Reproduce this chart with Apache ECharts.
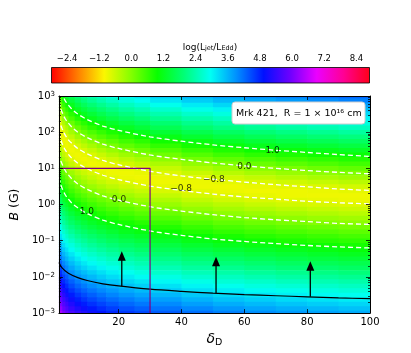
<!DOCTYPE html>
<html lang="en">
<head>
    <meta charset="UTF-8">
    <title>Mrk 421 jet power</title>
    <script src="https://cdn.jsdelivr.net/npm/echarts@6.0.0/dist/echarts.min.js"></script>
</head>
<body style="margin: 0; background: #fff;">
<div id="container" style="width: 411px; height: 353px;"></div>
<script type="text/javascript">

    // colour map cells: delta_D bin edges (columns) and log10 B row centres (top to bottom)
    let deltaEdges = [1, 2, 3, 4, 6, 8, 10, 13, 16, 20, 25, 30, 40, 50, 60, 70, 80, 90, 100];
    let logBCenters = [3, 2.875, 2.75, 2.625, 2.5, 2.375, 2.25, 2.125, 2, 1.875, 1.75, 1.625, 1.5, 1.375,
        1.25, 1.125, 1, 0.875, 0.75, 0.625, 0.5, 0.375, 0.25, 0.125, 0, -0.125, -0.25, -0.375, -0.5,
        -0.625, -0.75, -0.875, -1, -1.125, -1.25, -1.375, -1.5, -1.625, -1.75, -1.875, -2, -2.125,
        -2.25, -2.375, -2.5, -2.625, -2.75, -2.875, -3];

    // log(Ljet/LEdd) per cell, one row per logBCenters entry
    let jetPower = [
        [0.65, 1.10, 1.39, 1.70, 1.99, 2.21, 2.42, 2.62, 2.81, 3.01, 3.18, 3.39, 3.61, 3.78, 3.93, 4.05, 4.16, 4.26],
        [0.40, 0.85, 1.14, 1.45, 1.74, 1.96, 2.17, 2.37, 2.56, 2.76, 2.93, 3.14, 3.36, 3.53, 3.68, 3.80, 3.91, 4.01],
        [0.16, 0.60, 0.89, 1.20, 1.49, 1.71, 1.92, 2.12, 2.31, 2.51, 2.68, 2.89, 3.11, 3.28, 3.43, 3.55, 3.66, 3.76],
        [-0.09, 0.35, 0.64, 0.95, 1.24, 1.46, 1.67, 1.87, 2.06, 2.26, 2.43, 2.64, 2.86, 3.03, 3.18, 3.30, 3.41, 3.51],
        [-0.33, 0.10, 0.39, 0.70, 0.99, 1.21, 1.42, 1.62, 1.81, 2.01, 2.18, 2.39, 2.61, 2.78, 2.93, 3.05, 3.16, 3.26],
        [-0.56, -0.15, 0.14, 0.45, 0.74, 0.96, 1.17, 1.37, 1.56, 1.76, 1.93, 2.14, 2.36, 2.53, 2.68, 2.80, 2.91, 3.01],
        [-0.76, -0.39, -0.11, 0.20, 0.49, 0.71, 0.92, 1.12, 1.31, 1.51, 1.68, 1.89, 2.11, 2.28, 2.43, 2.55, 2.66, 2.76],
        [-0.89, -0.61, -0.35, -0.05, 0.24, 0.46, 0.67, 0.87, 1.06, 1.26, 1.43, 1.64, 1.86, 2.03, 2.18, 2.30, 2.41, 2.51],
        [-0.92, -0.80, -0.57, -0.29, 0.00, 0.21, 0.42, 0.62, 0.81, 1.01, 1.18, 1.39, 1.61, 1.78, 1.93, 2.05, 2.16, 2.26],
        [-0.86, -0.90, -0.77, -0.52, -0.25, -0.04, 0.18, 0.37, 0.56, 0.76, 0.93, 1.14, 1.36, 1.53, 1.68, 1.80, 1.91, 2.01],
        [-0.73, -0.91, -0.90, -0.72, -0.48, -0.28, -0.07, 0.13, 0.31, 0.51, 0.68, 0.89, 1.11, 1.28, 1.43, 1.55, 1.66, 1.76],
        [-0.56, -0.83, -0.92, -0.87, -0.69, -0.51, -0.31, -0.12, 0.06, 0.26, 0.43, 0.64, 0.86, 1.03, 1.18, 1.30, 1.41, 1.51],
        [-0.38, -0.69, -0.85, -0.93, -0.85, -0.72, -0.54, -0.36, -0.18, 0.01, 0.18, 0.39, 0.61, 0.78, 0.93, 1.05, 1.16, 1.26],
        [-0.20, -0.52, -0.72, -0.88, -0.92, -0.87, -0.74, -0.59, -0.42, -0.24, -0.07, 0.14, 0.36, 0.53, 0.68, 0.80, 0.91, 1.01],
        [-0.01, -0.34, -0.55, -0.75, -0.89, -0.93, -0.88, -0.78, -0.64, -0.48, -0.31, -0.11, 0.11, 0.28, 0.43, 0.55, 0.66, 0.76],
        [0.18, -0.16, -0.37, -0.59, -0.78, -0.88, -0.93, -0.90, -0.82, -0.68, -0.54, -0.35, -0.14, 0.04, 0.18, 0.30, 0.41, 0.51],
        [0.36, 0.03, -0.19, -0.42, -0.62, -0.76, -0.86, -0.92, -0.91, -0.84, -0.74, -0.57, -0.38, -0.21, -0.07, 0.05, 0.16, 0.26],
        [0.55, 0.22, 0.00, -0.23, -0.45, -0.60, -0.74, -0.84, -0.91, -0.92, -0.88, -0.77, -0.60, -0.45, -0.31, -0.19, -0.09, 0.01],
        [0.74, 0.41, 0.19, -0.05, -0.26, -0.42, -0.57, -0.71, -0.82, -0.90, -0.93, -0.90, -0.79, -0.66, -0.54, -0.43, -0.33, -0.23],
        [0.93, 0.59, 0.37, 0.14, -0.08, -0.24, -0.40, -0.54, -0.67, -0.79, -0.87, -0.92, -0.90, -0.83, -0.74, -0.65, -0.56, -0.47],
        [1.11, 0.78, 0.56, 0.33, 0.11, -0.05, -0.21, -0.36, -0.50, -0.63, -0.74, -0.85, -0.91, -0.92, -0.88, -0.82, -0.75, -0.68],
        [1.30, 0.97, 0.75, 0.52, 0.30, 0.13, -0.03, -0.18, -0.31, -0.46, -0.58, -0.72, -0.84, -0.90, -0.93, -0.91, -0.89, -0.84],
        [1.49, 1.16, 0.94, 0.70, 0.48, 0.32, 0.16, 0.01, -0.13, -0.27, -0.40, -0.55, -0.70, -0.80, -0.87, -0.91, -0.92, -0.92],
        [1.68, 1.34, 1.12, 0.89, 0.67, 0.51, 0.35, 0.20, 0.06, -0.09, -0.22, -0.37, -0.53, -0.65, -0.74, -0.81, -0.86, -0.90],
        [1.86, 1.53, 1.31, 1.08, 0.86, 0.70, 0.54, 0.39, 0.24, 0.10, -0.03, -0.19, -0.35, -0.47, -0.58, -0.66, -0.73, -0.79],
        [2.05, 1.72, 1.50, 1.27, 1.05, 0.88, 0.72, 0.57, 0.43, 0.29, 0.16, 0.00, -0.16, -0.29, -0.40, -0.49, -0.57, -0.63],
        [2.24, 1.90, 1.69, 1.45, 1.23, 1.07, 0.91, 0.76, 0.62, 0.47, 0.34, 0.19, 0.02, -0.11, -0.22, -0.31, -0.39, -0.46],
        [2.43, 2.09, 1.87, 1.64, 1.42, 1.26, 1.10, 0.95, 0.81, 0.66, 0.53, 0.37, 0.21, 0.08, -0.03, -0.12, -0.20, -0.27],
        [2.61, 2.28, 2.06, 1.83, 1.61, 1.45, 1.29, 1.14, 0.99, 0.85, 0.72, 0.56, 0.40, 0.27, 0.16, 0.06, -0.02, -0.09],
        [2.80, 2.47, 2.25, 2.02, 1.80, 1.63, 1.47, 1.32, 1.18, 1.04, 0.91, 0.75, 0.59, 0.45, 0.35, 0.25, 0.17, 0.10],
        [2.99, 2.66, 2.44, 2.20, 1.98, 1.82, 1.66, 1.51, 1.37, 1.22, 1.09, 0.94, 0.77, 0.64, 0.53, 0.44, 0.36, 0.29],
        [3.18, 2.84, 2.62, 2.39, 2.17, 2.01, 1.85, 1.70, 1.56, 1.41, 1.28, 1.12, 0.96, 0.83, 0.72, 0.63, 0.55, 0.47],
        [3.36, 3.03, 2.81, 2.58, 2.36, 2.20, 2.04, 1.89, 1.74, 1.60, 1.47, 1.31, 1.15, 1.02, 0.91, 0.81, 0.73, 0.66],
        [3.55, 3.22, 3.00, 2.77, 2.55, 2.38, 2.22, 2.07, 1.93, 1.79, 1.66, 1.50, 1.34, 1.20, 1.10, 1.00, 0.92, 0.85],
        [3.74, 3.41, 3.19, 2.95, 2.73, 2.57, 2.41, 2.26, 2.12, 1.97, 1.84, 1.69, 1.52, 1.39, 1.28, 1.19, 1.11, 1.04],
        [3.93, 3.59, 3.37, 3.14, 2.92, 2.76, 2.60, 2.45, 2.31, 2.16, 2.03, 1.87, 1.71, 1.58, 1.47, 1.38, 1.30, 1.22],
        [4.11, 3.78, 3.56, 3.33, 3.11, 2.95, 2.79, 2.64, 2.49, 2.35, 2.22, 2.06, 1.90, 1.77, 1.66, 1.56, 1.48, 1.41],
        [4.30, 3.97, 3.75, 3.52, 3.30, 3.13, 2.97, 2.82, 2.68, 2.54, 2.41, 2.25, 2.09, 1.95, 1.85, 1.75, 1.67, 1.60],
        [4.49, 4.16, 3.94, 3.70, 3.48, 3.32, 3.16, 3.01, 2.87, 2.72, 2.59, 2.44, 2.27, 2.14, 2.03, 1.94, 1.86, 1.79],
        [4.68, 4.34, 4.12, 3.89, 3.67, 3.51, 3.35, 3.20, 3.06, 2.91, 2.78, 2.62, 2.46, 2.33, 2.22, 2.13, 2.05, 1.97],
        [4.86, 4.53, 4.31, 4.08, 3.86, 3.70, 3.54, 3.39, 3.24, 3.10, 2.97, 2.81, 2.65, 2.52, 2.41, 2.31, 2.23, 2.16],
        [5.05, 4.72, 4.50, 4.27, 4.05, 3.88, 3.72, 3.57, 3.43, 3.29, 3.16, 3.00, 2.84, 2.70, 2.60, 2.50, 2.42, 2.35],
        [5.24, 4.91, 4.69, 4.45, 4.23, 4.07, 3.91, 3.76, 3.62, 3.47, 3.34, 3.19, 3.02, 2.89, 2.78, 2.69, 2.61, 2.54],
        [5.43, 5.09, 4.87, 4.64, 4.42, 4.26, 4.10, 3.95, 3.81, 3.66, 3.53, 3.37, 3.21, 3.08, 2.97, 2.88, 2.80, 2.72],
        [5.61, 5.28, 5.06, 4.83, 4.61, 4.45, 4.29, 4.14, 3.99, 3.85, 3.72, 3.56, 3.40, 3.27, 3.16, 3.06, 2.98, 2.91],
        [5.80, 5.47, 5.25, 5.02, 4.80, 4.63, 4.47, 4.32, 4.18, 4.04, 3.91, 3.75, 3.59, 3.45, 3.35, 3.25, 3.17, 3.10],
        [5.99, 5.66, 5.44, 5.20, 4.98, 4.82, 4.66, 4.51, 4.37, 4.22, 4.09, 3.94, 3.77, 3.64, 3.53, 3.44, 3.36, 3.29],
        [6.18, 5.84, 5.62, 5.39, 5.17, 5.01, 4.85, 4.70, 4.56, 4.41, 4.28, 4.12, 3.96, 3.83, 3.72, 3.63, 3.55, 3.47],
        [6.36, 6.03, 5.81, 5.58, 5.36, 5.20, 5.04, 4.89, 4.74, 4.60, 4.47, 4.31, 4.15, 4.02, 3.91, 3.81, 3.73, 3.66]
    ];

    // dashed contours: log10 B at each delta_D
    let contourDelta = [1, 1.5, 2, 3, 4, 5, 7, 10, 15, 20, 30, 40, 50, 60, 70, 80, 90, 100];
    let upperOne = [3.35, 3.17, 3.05, 2.87, 2.75, 2.65, 2.50, 2.35, 2.17, 2.05, 1.87, 1.75, 1.65, 1.57, 1.50, 1.44, 1.38, 1.33];
    let upperZero = [2.85, 2.67, 2.55, 2.37, 2.25, 2.15, 2.00, 1.85, 1.67, 1.55, 1.37, 1.25, 1.15, 1.07, 1.00, 0.94, 0.89, 0.85];
    let upperMinus = [2.40, 2.22, 2.10, 1.92, 1.79, 1.70, 1.55, 1.40, 1.22, 1.10, 0.92, 0.79, 0.70, 0.62, 0.55, 0.49, 0.43, 0.39];
    let lowerMinus = [1.99, 1.81, 1.69, 1.51, 1.39, 1.29, 1.14, 0.99, 0.81, 0.69, 0.51, 0.39, 0.29, 0.21, 0.15, 0.09, 0.05, 0.02];
    let lowerZero = [1.42, 1.24, 1.12, 0.94, 0.82, 0.72, 0.57, 0.42, 0.24, 0.12, -0.06, -0.18, -0.28, -0.36, -0.42, -0.47, -0.52, -0.55];
    let lowerOne = [0.75, 0.58, 0.45, 0.27, 0.15, 0.05, -0.09, -0.25, -0.43, -0.55, -0.73, -0.85, -0.95, -1.02, -1.08, -1.13, -1.17, -1.20];

    // contour labels
    let labelText = ['1.0', '0.0', '\u22120.8', '\u22120.8', '0.0', '1.0'];
    let labelDelta = [69, 60, 50.3, 39.9, 20.1, 9.9];
    let labelLogB = [1.49, 1.05, 0.69, 0.43, 0.14, -0.19];

    // solid black limit curve
    let limitDelta = [1, 2, 4, 7, 10, 15, 20, 30, 40, 50, 60, 70, 80, 90, 100];
    let limitLogB = [-1.60, -1.75, -1.90, -2.02, -2.10, -2.19, -2.25, -2.34, -2.40, -2.45, -2.49, -2.52, -2.55, -2.58, -2.60];

    // arrows pointing up from the limit curve
    let arrowDelta = [21, 51, 81];
    let arrowFromLogB = [-2.26, -2.45, -2.55];
    let arrowToLogB = [-1.29, -1.44, -1.57];

    // purple box: B <= 10 G, delta_D <= 30
    let boxDelta = [1, 30, 30];
    let boxB = [10, 10, 0.001];

    let xTicks = [20, 40, 60, 80, 100];
    let bTicks = [0.001, 0.01, 0.1, 1, 10, 100, 1000];
    let cbarTicks = [-2.4, -1.2, 0.0, 1.2, 2.4, 3.6, 4.8, 6.0, 7.2, 8.4];
    let cbarMin = -3.0;
    let cbarMax = 8.87;

    // matplotlib "hsv" sampled at 13 even steps
    let hsvColors = ['#ff0000', '#ff7d00', '#fbf700', '#85ff00', '#08ff00', '#00ff76', '#00fff3',
        '#008dff', '#0010ff', '#6e00ff', '#eb00ff', '#ff0095', '#ff0018'];

    let font = 'DejaVu Sans';

    let cells = [];
    for (let r = 0; r < jetPower.length; r++) {
        let up = r === 0 ? logBCenters[0] + (logBCenters[0] - logBCenters[1]) / 2 : (logBCenters[r - 1] + logBCenters[r]) / 2;
        let last = logBCenters.length - 1;
        let lo = r === last ? logBCenters[last] - (logBCenters[last - 1] - logBCenters[last]) / 2 : (logBCenters[r] + logBCenters[r + 1]) / 2;
        for (let i = 0; i < deltaEdges.length - 1; i++) {
            cells.push([deltaEdges[i], deltaEdges[i + 1], Math.pow(10, lo), Math.pow(10, up), jetPower[r][i]]);
        }
    }

    function toXY(deltas, logBs) {
        return deltas.map(function (d, i) {
            return [d, Math.pow(10, logBs[i])];
        });
    }

    let bMinor = [];
    for (let e = -3; e < 3; e++) {
        for (let k = 2; k < 10; k++) {
            bMinor.push(k * Math.pow(10, e));
        }
    }

    function powLabel(v) {
        let e = Math.round(Math.log10(v));
        return '10{s|' + (e < 0 ? '\u2212' + (-e) : e) + '}';
    }

    let contourSeries = [upperOne, upperZero, upperMinus, lowerMinus, lowerZero, lowerOne].map(function (c) {
        return {
            type: 'line',
            data: toXY(contourDelta, c),
            smooth: 0.3,
            showSymbol: false,
            silent: true,
            lineStyle: {color: '#ffffff', width: 1.3, type: [5, 3]},
            z: 3
        };
    });

    let chart = echarts.init(document.getElementById('container'));

    let mainYAxis = function (position, minor, withLabel) {
        return {
            gridIndex: 0,
            type: 'log',
            logBase: 10,
            min: 0.001,
            max: 1000,
            position: position,
            z: 10,
            axisLine: {show: !minor, lineStyle: {color: '#000', width: 1}},
            axisTick: {
                show: true, inside: true, length: minor ? 2 : 4,
                customValues: minor ? bMinor : bTicks,
                lineStyle: {color: '#000', width: 0.8}
            },
            axisLabel: withLabel ? {
                customValues: bTicks, formatter: powLabel, color: '#000', fontSize: 10,
                fontFamily: font, margin: 4,
                rich: {s: {fontSize: 7, fontFamily: font, verticalAlign: 'top', lineHeight: 8}}
            } : {show: false},
            splitLine: {show: false},
            minorTick: {show: false}
        };
    };

    let option = {
        animation: false,
        textStyle: {fontFamily: font},
        visualMap: {
            type: 'continuous', show: false, min: cbarMin, max: cbarMax,
            dimension: 4, seriesIndex: 0, inRange: {color: hsvColors}
        },
        grid: [
            {left: 51, top: 96, width: 319, height: 218},
            {left: 51, top: 67, width: 318, height: 16}
        ],
        xAxis: [
            {
                gridIndex: 0, type: 'value', min: 1, max: 100, position: 'bottom', z: 10,
                axisLine: {show: true, lineStyle: {color: '#000', width: 1}},
                axisTick: {inside: true, length: 4, customValues: xTicks, lineStyle: {color: '#000', width: 0.8}},
                axisLabel: {customValues: xTicks, color: '#000', fontSize: 10, fontFamily: font, margin: 4},
                splitLine: {show: false},
                name: '{i|\u03b4}{b|D}', nameLocation: 'middle', nameGap: 13,
                nameTextStyle: {
                    color: '#000',
                    rich: {
                        i: {fontSize: 14, fontStyle: 'italic', fontFamily: font, lineHeight: 18},
                        b: {fontSize: 9.5, fontFamily: font, verticalAlign: 'bottom', lineHeight: 12}
                    }
                }
            },
            {
                gridIndex: 0, type: 'value', min: 1, max: 100, position: 'top', z: 10,
                axisLine: {show: true, lineStyle: {color: '#000', width: 1}},
                axisTick: {inside: true, length: 4, customValues: xTicks, lineStyle: {color: '#000', width: 0.8}},
                axisLabel: {show: false},
                splitLine: {show: false}
            },
            {
                gridIndex: 1, type: 'value', min: cbarMin, max: cbarMax, position: 'top', z: 10,
                axisLine: {show: false},
                axisTick: {inside: false, length: 3, customValues: cbarTicks, lineStyle: {color: '#000', width: 0.8}},
                axisLabel: {
                    customValues: cbarTicks, color: '#000', fontSize: 8.5, fontFamily: font, margin: 4,
                    formatter: function (v) {
                        return (v < -0.01 ? '\u2212' : '') + Math.abs(v).toFixed(1);
                    }
                },
                splitLine: {show: false},
                name: 'log(L{s|jet}/L{s|Edd})', nameLocation: 'middle', nameGap: 15,
                nameTextStyle: {
                    color: '#000', fontSize: 9, fontFamily: font,
                    rich: {s: {fontSize: 6.5, fontFamily: font, verticalAlign: 'bottom', lineHeight: 9}}
                }
            }
        ],
        yAxis: [
            Object.assign(mainYAxis('left', false, true), {
                name: '{i|B} (G)', nameLocation: 'middle', nameGap: 31, nameRotate: 90,
                nameTextStyle: {
                    color: '#000', fontSize: 12.5, fontFamily: font,
                    rich: {i: {fontSize: 12.5, fontStyle: 'italic', fontFamily: font}}
                }
            }),
            mainYAxis('left', true, false),
            mainYAxis('right', false, false),
            mainYAxis('right', true, false),
            {gridIndex: 1, type: 'value', min: 0, max: 1, show: false}
        ],
        graphic: [
            {
                type: 'rect',
                shape: {x: 51.5, y: 67.5, width: 318, height: 15.5},
                style: {
                    fill: new echarts.graphic.LinearGradient(0, 0, 1, 0, hsvColors.map(function (c, i) {
                        return {offset: i / (hsvColors.length - 1), color: c};
                    })),
                    stroke: '#000', lineWidth: 0.8
                },
                z: 20
            },
            {
                type: 'rect',
                shape: {x: 232, y: 102, width: 133, height: 22, r: 3},
                style: {fill: '#ffffff', stroke: '#cccccc', lineWidth: 1},
                z: 20
            },
            {
                type: 'text',
                style: {
                    text: 'Mrk 421,  R = 1 \u00d7 10\u00b9\u2076 cm', x: 236, y: 113.5,
                    verticalAlign: 'middle', fontSize: 9.5, fontFamily: font, fill: '#000'
                },
                z: 21
            }
        ],
        series: [
            {
                type: 'custom',
                xAxisIndex: 0,
                yAxisIndex: 0,
                data: cells,
                encode: {x: [0, 1], y: [2, 3]},
                clip: true,
                silent: true,
                z: 1,
                renderItem: function (params, api) {
                    let p0 = api.coord([api.value(0), api.value(3)]);
                    let p1 = api.coord([api.value(1), api.value(2)]);
                    return {
                        type: 'rect',
                        shape: {x: p0[0], y: p0[1], width: p1[0] - p0[0] + 0.7, height: p1[1] - p0[1] + 0.7},
                        style: {fill: api.visual('color')}
                    };
                }
            }
        ].concat(contourSeries).concat([
            {
                type: 'scatter',
                data: labelText.map(function (t, i) {
                    return {name: t, value: [labelDelta[i], Math.pow(10, labelLogB[i])]};
                }),
                symbolSize: 1,
                itemStyle: {color: 'rgba(0,0,0,0)'},
                silent: true,
                z: 4,
                label: {
                    show: true, position: 'inside', color: '#000', fontSize: 9, fontFamily: font,
                    formatter: function (p) {
                        return p.name;
                    }
                }
            },
            {
                type: 'line',
                data: toXY(limitDelta, limitLogB),
                smooth: 0.3,
                showSymbol: false,
                silent: true,
                lineStyle: {color: '#000', width: 1.2},
                z: 4
            },
            {
                type: 'line',
                data: boxDelta.map(function (d, i) {
                    return [d, boxB[i]];
                }),
                showSymbol: false,
                silent: true,
                lineStyle: {color: '#800080', width: 1.2},
                z: 4
            },
            {
                type: 'custom',
                data: arrowDelta.map(function (d, i) {
                    return [d, Math.pow(10, arrowFromLogB[i]), Math.pow(10, arrowToLogB[i])];
                }),
                encode: {x: 0, y: [1, 2]},
                silent: true,
                z: 5,
                renderItem: function (params, api) {
                    let base = api.coord([api.value(0), api.value(1)]);
                    let tip = api.coord([api.value(0), api.value(2)]);
                    return {
                        type: 'group',
                        children: [
                            {
                                type: 'line',
                                shape: {x1: base[0], y1: base[1], x2: tip[0], y2: tip[1] + 8},
                                style: {stroke: '#000', lineWidth: 1.3}
                            },
                            {
                                type: 'polygon',
                                shape: {points: [[tip[0], tip[1]], [tip[0] - 4, tip[1] + 9.5], [tip[0] + 4, tip[1] + 9.5]]},
                                style: {fill: '#000'}
                            }
                        ]
                    };
                }
            }
        ])
    };

    chart.setOption(option);

</script>
</body>
</html>
